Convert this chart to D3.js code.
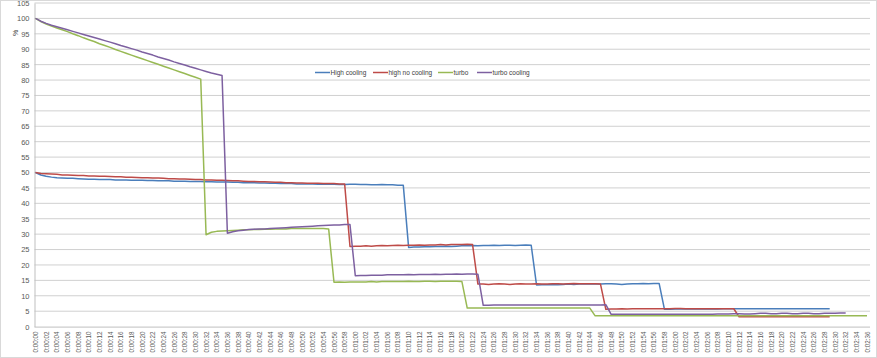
<!DOCTYPE html>
<html><head><meta charset="utf-8">
<script src="https://cdn.jsdelivr.net/npm/d3@7/dist/d3.min.js"></script>
<style>body{margin:0;background:#fff}svg{display:block;font-family:"Liberation Sans",Arial,sans-serif}</style>
</head><body><svg id="c" width="877" height="358"></svg>
<script>
// Categories: one per second, 0:00:00 .. 0:02:36
const categories = [];
for (let s = 0; s <= 156; s++) {
  const m = Math.floor(s / 60), sec = s % 60;
  categories.push("0:0" + m + ":" + (sec < 10 ? "0" : "") + sec);
}
const yTicks = [0,5,10,15,20,25,30,35,40,45,50,55,60,65,70,75,80,85,90,95,100,105];
const seriesNames = ["High cooling", "high no cooling", "turbo", "turbo cooling"];
const seriesColors = ["#4a7ebb", "#be4b48", "#98b954", "#7d60a0"];

const highCooling = [
50.0,49.2,48.8,48.5,48.3,48.2,48.1,48.1,48.0,47.9,
47.8,47.8,47.7,47.7,47.7,47.6,47.6,47.6,47.5,47.5,
47.5,47.4,47.4,47.3,47.3,47.3,47.2,47.2,47.2,47.1,
47.1,47.1,47.0,47.0,46.9,46.9,46.9,46.8,46.8,46.7,
46.7,46.7,46.6,46.6,46.5,46.5,46.4,46.4,46.4,46.3,
46.3,46.3,46.3,46.2,46.2,46.2,46.2,46.1,46.1,46.2,
46.2,46.1,46.1,46.0,46.0,46.1,46.0,46.0,45.9,45.9,
25.7,25.8,25.8,25.9,25.9,26.0,26.0,26.1,26.0,26.1,
26.2,26.2,26.3,26.2,26.3,26.3,26.4,26.3,26.4,26.4,
26.3,26.4,26.5,26.4,
13.5,13.6,13.6,13.7,13.6,13.7,
13.8,13.7,13.8,13.8,13.9,13.8,13.8,13.9,13.9,13.8,
13.7,13.8,13.9,13.9,14.0,13.9,14.0,14.0,
5.6,5.6,5.7,5.7,5.7,5.7,5.7,5.8,5.7,5.7,5.7,5.8,
5.8,5.8,5.8,5.8,5.8,5.8,5.8,5.8,5.8,5.8,
5.8,5.8,5.8,5.8,5.8,5.8,5.8,5.8,5.8,5.8];

const highNoCooling = [
50.0,49.7,49.6,49.5,49.4,49.2,49.2,49.1,49.0,49.0,
48.9,48.9,48.8,48.8,48.7,48.6,48.6,48.5,48.5,48.4,
48.3,48.3,48.2,48.2,48.1,48.0,48.0,47.9,47.9,47.8,
47.7,47.7,47.6,47.6,47.5,47.5,47.4,47.3,47.3,47.2,
47.1,47.1,47.0,47.0,46.9,46.8,46.8,46.7,46.7,46.6,
46.6,46.5,46.5,46.5,46.4,46.4,46.4,46.3,46.3,
26.0,26.1,26.1,26.2,26.1,26.2,26.3,26.2,26.3,26.4,26.3,
26.4,26.4,26.5,26.4,26.5,26.5,26.6,26.5,26.6,26.6,26.6,26.7,26.6,
13.8,13.8,13.7,13.8,13.9,13.8,13.7,13.8,13.9,13.8,13.8,
13.9,13.8,13.8,13.9,13.9,13.8,13.9,14.0,13.9,13.9,13.9,13.9,13.8,
5.6,5.7,5.7,5.8,5.7,5.8,5.8,5.8,5.8,5.8,5.8,5.8,5.8,5.9,5.9,5.8,5.8,5.8,5.8,5.8,5.8,5.8,5.8,5.8,5.8,
3.2,3.2,3.2,3.2,3.2,3.2,3.2,3.2,3.2,3.2,3.2,3.2,3.2,3.2,3.2,3.2,3.2,3.2];

const turbo = [
100.0,99.0,98.2,97.5,96.9,96.3,95.7,95.0,94.4,93.7,
93.1,92.5,91.8,91.2,90.6,89.9,89.3,88.7,88.1,87.5,
86.9,86.3,85.7,85.1,84.5,83.9,83.3,82.7,82.1,81.5,
80.9,80.3,
29.8,30.6,30.9,31.0,31.1,31.2,31.3,31.4,
31.4,31.5,31.5,31.6,31.6,31.7,31.7,31.7,31.8,31.8,
31.8,31.8,31.8,31.8,31.8,31.7,
14.4,14.5,14.4,14.5,14.5,14.5,14.5,14.6,14.5,14.6,14.6,14.6,14.6,14.6,14.7,14.6,14.6,14.7,14.7,14.6,14.7,14.7,14.7,14.7,14.6,
6.0,6.0,6.0,6.0,6.0,6.0,6.0,6.0,6.0,6.0,6.0,6.0,6.0,6.0,6.0,6.0,6.0,6.0,6.0,6.0,6.0,6.0,6.0,6.0,
3.5,3.5,3.5,3.5,3.5,3.5,3.5,3.5,3.5,3.5,3.5,3.5,3.5,3.5,3.5,3.5,3.5,3.5,3.5,3.5,3.5,3.5,3.5,3.5,3.5,3.5,
3.5,3.5,3.5,3.5,3.5,3.5,3.5,3.5,3.5,3.5,3.5,3.5,3.5,3.5,3.5,3.5,3.5,3.5,3.5,3.5,3.5,3.5,3.5,3.5,3.5,3.5];

const turboCooling = [
100.0,99.1,98.4,97.8,97.3,96.8,96.3,95.8,95.3,94.8,
94.3,93.8,93.3,92.8,92.3,91.8,91.2,90.7,90.2,89.7,
89.1,88.6,88.1,87.5,87.0,86.5,85.9,85.4,84.9,84.3,
83.8,83.3,82.8,82.3,81.9,81.5,
30.3,30.8,31.1,31.3,
31.5,31.6,31.7,31.7,31.8,31.9,32.0,32.1,32.2,32.3,
32.4,32.5,32.6,32.7,32.8,32.9,33.0,33.0,33.1,33.1,
16.5,16.6,16.6,16.7,16.7,16.7,16.8,16.8,16.8,16.8,16.9,16.8,16.9,16.9,16.9,17.0,16.9,17.0,17.0,17.1,17.0,17.1,17.1,17.0,
6.9,6.9,7.0,7.0,7.0,7.0,7.0,7.0,7.0,7.0,7.0,7.0,7.0,7.0,7.0,7.0,7.0,7.0,7.0,7.0,7.0,7.0,7.0,7.1,
4.0,4.0,4.0,4.0,4.0,4.0,4.0,4.0,4.0,4.0,4.0,4.0,4.0,4.0,4.0,4.0,4.0,4.0,4.0,4.0,
4.1,4.1,4.1,4.2,4.2,4.1,4.1,4.2,4.3,4.3,4.2,4.2,4.3,4.3,4.2,4.2,4.3,4.3,4.2,4.2,
4.3,4.3,4.3,4.4,4.4];

const allSeries = [highCooling, highNoCooling, turbo, turboCooling];

const svg = d3.select("#c");
const plotLeft = 34.5, plotRight = 867, plotTop = 3, plotBottom = 326.6;
const x = d3.scalePoint().domain(categories).range([plotLeft + 1, plotRight]);
const y = d3.scaleLinear().domain([0, 105]).range([plotBottom, plotTop]);

// chart border
svg.append("rect").attr("x",0.5).attr("y",0.5).attr("width",876).attr("height",357)
  .attr("fill","none").attr("stroke","#d9d9d9");

// gridlines
svg.append("g").selectAll("line").data(yTicks.filter(d => d > 0)).join("line")
  .attr("x1", plotLeft).attr("x2", plotRight + 3)
  .attr("y1", d => y(d)).attr("y2", d => y(d))
  .attr("stroke", "#d0d0d0").attr("stroke-width", 1);

// y axis
const yAxis = svg.append("g").attr("transform", `translate(${plotLeft},0)`)
  .call(d3.axisLeft(y).tickValues(yTicks).tickSize(0).tickPadding(5));
yAxis.select(".domain").attr("stroke", "#bfbfbf");
yAxis.selectAll("text").attr("font-size", 7.5).attr("fill", "#595959");

// x axis
const xAxis = svg.append("g").attr("transform", `translate(0,${plotBottom})`)
  .call(d3.axisBottom(x).tickValues(categories.filter((d, i) => i % 2 === 0)).tickSize(0).tickPadding(2));
xAxis.select(".domain").attr("stroke", "#bfbfbf").attr("d", `M${plotLeft},0.5H${plotRight + 3}`);
xAxis.selectAll("text")
  .attr("font-size", 6.3).attr("fill", "#595959")
  .attr("text-anchor", "end")
  .attr("transform", "rotate(-90)")
  .attr("x", -5).attr("y", 0).attr("dy", "0.32em");

// y title
svg.append("text").attr("transform", "translate(16,33) rotate(-90)")
  .attr("text-anchor", "middle").attr("dy", "0.32em")
  .attr("font-size", 7).attr("fill", "#404040").text("%");

// lines
const line = d3.line().x((d, i) => x(categories[i])).y(d => y(d));
allSeries.forEach((s, k) => {
  svg.append("path").datum(s).attr("d", line)
    .attr("fill", "none").attr("stroke", seriesColors[k])
    .attr("stroke-width", 1.5).attr("stroke-linejoin", "round");
});

// legend
const legendX = [315, 373, 438, 477];
const lg = svg.append("g");
seriesNames.forEach((n, k) => {
  lg.append("line").attr("x1", legendX[k]).attr("x2", legendX[k] + 15)
    .attr("y1", 72.5).attr("y2", 72.5).attr("stroke", seriesColors[k]).attr("stroke-width", 1.5);
  lg.append("text").attr("x", legendX[k] + 15.5).attr("y", 72.5).attr("dy", "0.33em")
    .attr("font-size", 6.5).attr("fill", "#404040").text(n);
});
</script></body></html>
